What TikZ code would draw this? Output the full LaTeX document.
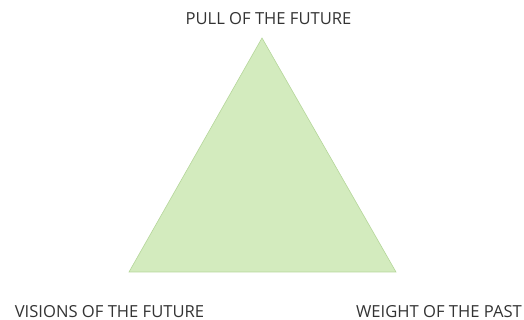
\documentclass[tikz,border=0pt]{standalone}
\usepackage{fontspec}
\setmainfont{Open Sans}
\begin{document}
\begin{tikzpicture}[x=1pt,y=1pt,
  lbl/.style={font=\fontsize{16.6}{19}\selectfont, text=black!80, inner sep=0pt, anchor=base},
  tri/.style={fill=triFill, draw=triLine, line width=0.6pt, line join=miter}]
\definecolor{triFill}{HTML}{D3EBBE}
\definecolor{triLine}{HTML}{B5D69A}
\useasboundingbox (0,0) rectangle (524,320);
\coordinate (apex) at (262,282);
\coordinate (bl) at (129,48);
\coordinate (br) at (396,48);
\draw[tri] (apex) -- (bl) -- (br) -- cycle;
\node[lbl] (pull) at (268.5,295.5) {PULL OF THE FUTURE};
\node[lbl] (vis) at (109.5,2.5) {VISIONS OF THE FUTURE};
\node[lbl] (weight) at (439,2.5) {WEIGHT OF THE PAST};
\end{tikzpicture}
\end{document}
